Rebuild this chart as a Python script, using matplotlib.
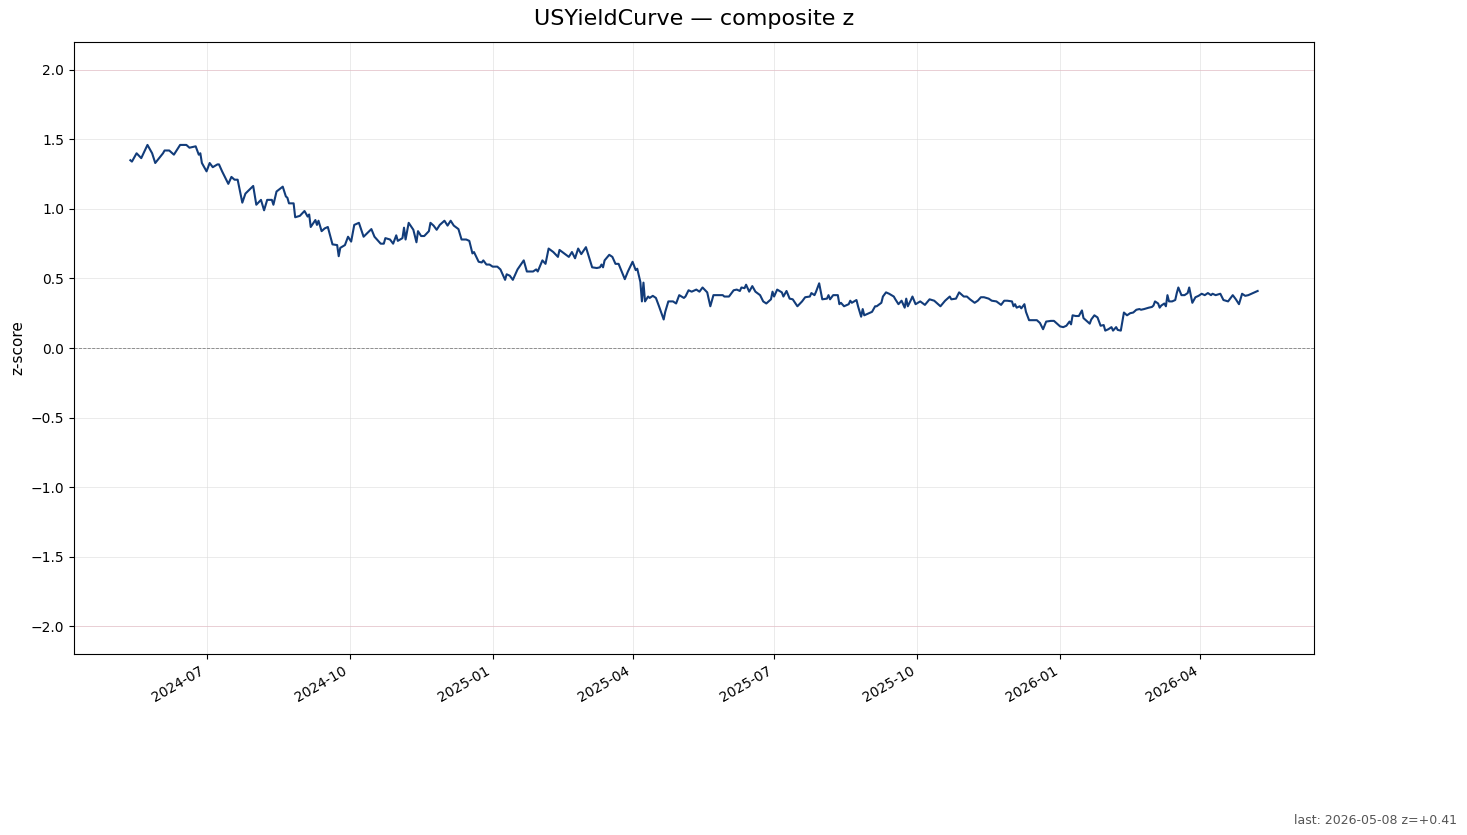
import matplotlib
matplotlib.use("Agg")
import matplotlib.pyplot as plt
import matplotlib.dates as mdates
import pandas as pd

# composite z-score
dates = [
    "2024-05-13", "2024-05-14", "2024-05-17", "2024-05-20", "2024-05-24", "2024-05-27", "2024-05-29",
    "2024-06-03", "2024-06-04", "2024-06-07", "2024-06-10", "2024-06-14", "2024-06-18", "2024-06-20",
    "2024-06-24", "2024-06-26", "2024-06-27", "2024-06-28", "2024-07-01", "2024-07-03", "2024-07-05",
    "2024-07-08", "2024-07-09", "2024-07-11", "2024-07-15", "2024-07-17", "2024-07-19", "2024-07-21",
    "2024-07-24", "2024-07-26", "2024-07-31", "2024-08-02", "2024-08-05", "2024-08-07", "2024-08-09",
    "2024-08-12", "2024-08-13", "2024-08-15", "2024-08-19", "2024-08-21", "2024-08-22", "2024-08-23",
    "2024-08-26", "2024-08-27", "2024-08-30", "2024-09-02", "2024-09-04", "2024-09-05", "2024-09-06",
    "2024-09-09", "2024-09-10", "2024-09-11", "2024-09-13", "2024-09-15", "2024-09-17", "2024-09-20",
    "2024-09-23", "2024-09-24", "2024-09-25", "2024-09-28", "2024-09-30", "2024-10-02", "2024-10-04",
    "2024-10-07", "2024-10-10", "2024-10-15", "2024-10-17", "2024-10-21", "2024-10-23", "2024-10-24",
    "2024-10-27", "2024-10-29", "2024-10-31", "2024-11-01", "2024-11-04", "2024-11-05", "2024-11-06",
    "2024-11-08", "2024-11-11", "2024-11-13", "2024-11-14", "2024-11-16", "2024-11-18", "2024-11-21",
    "2024-11-22", "2024-11-24", "2024-11-26", "2024-11-28", "2024-12-01", "2024-12-03", "2024-12-05",
    "2024-12-07", "2024-12-10", "2024-12-12", "2024-12-15", "2024-12-17", "2024-12-19", "2024-12-20",
    "2024-12-23", "2024-12-25", "2024-12-26", "2024-12-28", "2024-12-30", "2025-01-01", "2025-01-04",
    "2025-01-06", "2025-01-09", "2025-01-10", "2025-01-12", "2025-01-14", "2025-01-17", "2025-01-21",
    "2025-01-23", "2025-01-27", "2025-01-29", "2025-01-30", "2025-02-02", "2025-02-04", "2025-02-06",
    "2025-02-09", "2025-02-12", "2025-02-13", "2025-02-16", "2025-02-19", "2025-02-21", "2025-02-23",
    "2025-02-25", "2025-02-27", "2025-03-02", "2025-03-06", "2025-03-09", "2025-03-11", "2025-03-12",
    "2025-03-13", "2025-03-14", "2025-03-17", "2025-03-19", "2025-03-21", "2025-03-23", "2025-03-25",
    "2025-03-27", "2025-03-29", "2025-04-01", "2025-04-03", "2025-04-04", "2025-04-06", "2025-04-07",
    "2025-04-08", "2025-04-09", "2025-04-11", "2025-04-12", "2025-04-14", "2025-04-16", "2025-04-18",
    "2025-04-21", "2025-04-22", "2025-04-24", "2025-04-27", "2025-04-29", "2025-05-01", "2025-05-04",
    "2025-05-05", "2025-05-07", "2025-05-09", "2025-05-12", "2025-05-14", "2025-05-16", "2025-05-19",
    "2025-05-21", "2025-05-23", "2025-05-26", "2025-05-29", "2025-05-30", "2025-06-02", "2025-06-05",
    "2025-06-07", "2025-06-09", "2025-06-10", "2025-06-12", "2025-06-13", "2025-06-15", "2025-06-17",
    "2025-06-19", "2025-06-22", "2025-06-24", "2025-06-26", "2025-06-29", "2025-06-30", "2025-07-01",
    "2025-07-03", "2025-07-06", "2025-07-07", "2025-07-09", "2025-07-11", "2025-07-13", "2025-07-16",
    "2025-07-19", "2025-07-21", "2025-07-24", "2025-07-25", "2025-07-27", "2025-07-28", "2025-07-30",
    "2025-08-01", "2025-08-04", "2025-08-05", "2025-08-06", "2025-08-08", "2025-08-11", "2025-08-12",
    "2025-08-13", "2025-08-15", "2025-08-18", "2025-08-19", "2025-08-20", "2025-08-23", "2025-08-24",
    "2025-08-26", "2025-08-27", "2025-08-28", "2025-08-31", "2025-09-02", "2025-09-04", "2025-09-05",
    "2025-09-08", "2025-09-09", "2025-09-11", "2025-09-13", "2025-09-16", "2025-09-17", "2025-09-19",
    "2025-09-21", "2025-09-23", "2025-09-24", "2025-09-25", "2025-09-27", "2025-09-28", "2025-09-30",
    "2025-10-03", "2025-10-06", "2025-10-09", "2025-10-12", "2025-10-16", "2025-10-19", "2025-10-22",
    "2025-10-23", "2025-10-26", "2025-10-28", "2025-10-31", "2025-11-02", "2025-11-04", "2025-11-07",
    "2025-11-09", "2025-11-11", "2025-11-13", "2025-11-16", "2025-11-18", "2025-11-21", "2025-11-24",
    "2025-11-26", "2025-11-28", "2025-12-01", "2025-12-02", "2025-12-03", "2025-12-04", "2025-12-06",
    "2025-12-07", "2025-12-09", "2025-12-10", "2025-12-12", "2025-12-15", "2025-12-17", "2025-12-19",
    "2025-12-21", "2025-12-23", "2025-12-26", "2025-12-28", "2026-01-01", "2026-01-03", "2026-01-05",
    "2026-01-07", "2026-01-08", "2026-01-09", "2026-01-11", "2026-01-13", "2026-01-15", "2026-01-16",
    "2026-01-18", "2026-01-20", "2026-01-21", "2026-01-23", "2026-01-25", "2026-01-27", "2026-01-29",
    "2026-01-30", "2026-02-01", "2026-02-03", "2026-02-04", "2026-02-06", "2026-02-07", "2026-02-09",
    "2026-02-10", "2026-02-11", "2026-02-13", "2026-02-15", "2026-02-17", "2026-02-19", "2026-02-21",
    "2026-02-22", "2026-02-24", "2026-02-27", "2026-03-01", "2026-03-02", "2026-03-03", "2026-03-05",
    "2026-03-06", "2026-03-07", "2026-03-09", "2026-03-10", "2026-03-11", "2026-03-12", "2026-03-14",
    "2026-03-16", "2026-03-17", "2026-03-18", "2026-03-20", "2026-03-22", "2026-03-24", "2026-03-25",
    "2026-03-27", "2026-03-29", "2026-03-31", "2026-04-02", "2026-04-04", "2026-04-06", "2026-04-08",
    "2026-04-09", "2026-04-11", "2026-04-14", "2026-04-16", "2026-04-19", "2026-04-20", "2026-04-22",
    "2026-04-24", "2026-04-26", "2026-04-28", "2026-04-30", "2026-05-02", "2026-05-04", "2026-05-06",
    "2026-05-08",
]

zscore = [
    1.35, 1.34, 1.40, 1.365, 1.46, 1.40, 1.33,
    1.40, 1.42, 1.42, 1.39, 1.46, 1.46, 1.44,
    1.45, 1.39, 1.40, 1.33, 1.27, 1.33, 1.30,
    1.32, 1.32, 1.27, 1.18, 1.23, 1.21, 1.21,
    1.045, 1.11, 1.165, 1.03, 1.065, 0.99, 1.065,
    1.065, 1.03, 1.125, 1.16, 1.09, 1.08, 1.04,
    1.04, 0.94, 0.95, 0.985, 0.945, 0.96, 0.87,
    0.92, 0.885, 0.915, 0.84, 0.86, 0.87, 0.745,
    0.74, 0.66, 0.72, 0.74, 0.80, 0.765, 0.885,
    0.90, 0.80, 0.855, 0.80, 0.75, 0.75, 0.79,
    0.78, 0.75, 0.81, 0.77, 0.79, 0.865, 0.78,
    0.90, 0.85, 0.76, 0.84, 0.805, 0.805, 0.84,
    0.90, 0.88, 0.85, 0.885, 0.915, 0.88, 0.915,
    0.88, 0.855, 0.78, 0.78, 0.77, 0.68, 0.69,
    0.62, 0.615, 0.63, 0.60, 0.60, 0.585, 0.585,
    0.565, 0.49, 0.53, 0.52, 0.49, 0.565, 0.63,
    0.55, 0.55, 0.565, 0.55, 0.63, 0.605, 0.715,
    0.69, 0.655, 0.705, 0.68, 0.655, 0.69, 0.645,
    0.715, 0.675, 0.725, 0.58, 0.575, 0.58, 0.60,
    0.58, 0.63, 0.67, 0.655, 0.605, 0.605, 0.55,
    0.495, 0.55, 0.62, 0.56, 0.57, 0.475, 0.335,
    0.47, 0.335, 0.37, 0.36, 0.375, 0.36, 0.30,
    0.205, 0.26, 0.335, 0.335, 0.32, 0.38, 0.36,
    0.37, 0.415, 0.405, 0.42, 0.405, 0.435, 0.40,
    0.30, 0.38, 0.38, 0.38, 0.37, 0.37, 0.415,
    0.42, 0.41, 0.435, 0.43, 0.455, 0.405, 0.445,
    0.405, 0.38, 0.335, 0.32, 0.35, 0.405, 0.37,
    0.42, 0.40, 0.37, 0.41, 0.355, 0.35, 0.30,
    0.335, 0.365, 0.37, 0.395, 0.38, 0.405, 0.465,
    0.35, 0.355, 0.38, 0.35, 0.38, 0.38, 0.315,
    0.325, 0.30, 0.315, 0.34, 0.325, 0.345, 0.30,
    0.225, 0.28, 0.235, 0.25, 0.26, 0.30, 0.30,
    0.325, 0.37, 0.40, 0.39, 0.37, 0.35, 0.315,
    0.34, 0.29, 0.355, 0.30, 0.345, 0.37, 0.315,
    0.335, 0.31, 0.35, 0.34, 0.30, 0.34, 0.37,
    0.35, 0.355, 0.40, 0.37, 0.37, 0.35, 0.325,
    0.34, 0.365, 0.365, 0.355, 0.34, 0.335, 0.31,
    0.34, 0.34, 0.335, 0.30, 0.315, 0.29, 0.30,
    0.285, 0.315, 0.26, 0.20, 0.20, 0.20, 0.18,
    0.135, 0.19, 0.195, 0.195, 0.155, 0.15, 0.16,
    0.19, 0.17, 0.235, 0.23, 0.23, 0.27, 0.215,
    0.195, 0.175, 0.205, 0.235, 0.22, 0.16, 0.165,
    0.125, 0.135, 0.15, 0.125, 0.15, 0.13, 0.125,
    0.19, 0.255, 0.235, 0.25, 0.255, 0.275, 0.28,
    0.275, 0.28, 0.29, 0.295, 0.305, 0.335, 0.32,
    0.29, 0.305, 0.32, 0.30, 0.38, 0.335, 0.335,
    0.345, 0.395, 0.435, 0.38, 0.38, 0.395, 0.435,
    0.325, 0.365, 0.375, 0.39, 0.38, 0.395, 0.38,
    0.39, 0.38, 0.39, 0.345, 0.335, 0.35, 0.38,
    0.35, 0.315, 0.39, 0.375, 0.38, 0.39, 0.40,
    0.41,
]

name = "USYieldCurve"
x = pd.to_datetime(dates)

fig = plt.figure(figsize=(14.67, 8.35), dpi=100)
ax = fig.add_axes([74 / 1467, 1 - 654 / 835, 1240 / 1467, 612 / 835])

ax.plot(x, zscore, color="#123c7a", linewidth=1.5)
ax.axhline(0, color="gray", linestyle="--", linewidth=0.6)
ax.axhline(2, color="#e8b4c0", linewidth=0.6, alpha=0.6)
ax.axhline(-2, color="#e8b4c0", linewidth=0.6, alpha=0.6)

ax.set_ylim(-2.2, 2.2)
ax.set_ylabel("z-score", fontsize=11)
ax.set_title(name + " \u2014 composite z", fontsize=16, pad=12)
ax.grid(True, color="#dddddd", linewidth=0.6, alpha=0.7)

ax.xaxis.set_major_locator(mdates.MonthLocator(bymonth=[1, 4, 7, 10]))
ax.xaxis.set_major_formatter(mdates.DateFormatter("%Y-%m"))
for lbl in ax.get_xticklabels():
    lbl.set_rotation(30)
    lbl.set_ha("right")

fig.text(0.993, 0.01, "last: %s z=%+.2f" % (dates[-1], zscore[-1]),
         ha="right", va="bottom", fontsize=9, color="#555555")

fig.savefig("out.png", dpi=100)
